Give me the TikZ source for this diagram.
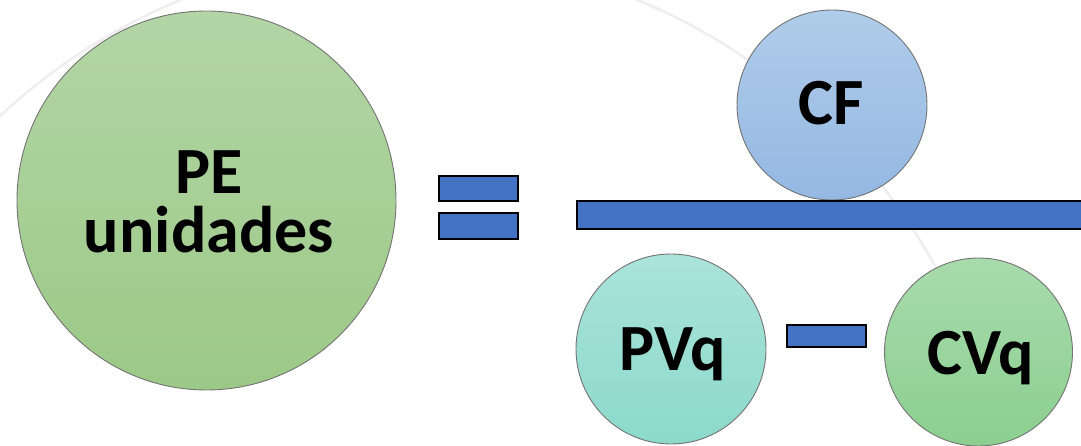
\documentclass[tikz,border=0pt]{standalone}
\usepackage{fontspec}
\setmainfont{Carlito}
\definecolor{barblue}{HTML}{4472C4}
\definecolor{arcgray}{HTML}{EEEEEE}
\definecolor{peTop}{HTML}{B3D5A6}
\definecolor{peBot}{HTML}{9CC987}
\definecolor{cfTop}{HTML}{B0CCEA}
\definecolor{cfBot}{HTML}{94B8E2}
\definecolor{pvTop}{HTML}{AAE3DA}
\definecolor{pvBot}{HTML}{8CD9CB}
\definecolor{cvTop}{HTML}{A8DBAD}
\definecolor{cvBot}{HTML}{8BCF8F}
\begin{document}
\begin{tikzpicture}[x=1pt,y=-1pt,
  bubble/.style={circle,inner sep=0pt,outer sep=0pt,draw=black!55,line width=0.9pt},
  barbox/.style={draw=black,line width=1.8pt,fill=barblue},
  lbl/.style={font=\fontsize{66}{59}\selectfont\bfseries,anchor=base,inner sep=0pt,text=black,align=center}]
\useasboundingbox (0,0) rectangle (1081,446);
\begin{scope}
  \clip (0,0) rectangle (1081,446);
  \draw[arcgray,line width=2.5pt] (409,555) circle (600);
\end{scope}
% circles
\node[bubble,minimum size=379pt,top color=peTop,bottom color=peBot] (pe) at (206.5,200.5) {};
\node[bubble,minimum size=190pt,top color=cfTop,bottom color=cfBot] (cf) at (832,105) {};
\node[bubble,minimum size=190pt,top color=pvTop,bottom color=pvBot] (pvq) at (671,349) {};
\node[bubble,minimum size=188pt,top color=cvTop,bottom color=cvBot] (cvq) at (978.5,352) {};
% bars
\draw[barbox] (439,176) rectangle (518,201);
\draw[barbox] (439,213) rectangle (518,239);
\draw[barbox] (577,201) rectangle (1090,229);
\draw[barbox] (787,325) rectangle (866,347);
% texts
\node[lbl] (pet) at (209,253) {PE\\unidades};
\node[lbl] (cft) at (831.5,125) {CF};
\node[lbl] (pvt) at (672.5,370) {PVq};
\node[lbl] (cvt) at (980.5,374) {CVq};
\end{tikzpicture}
\end{document}
